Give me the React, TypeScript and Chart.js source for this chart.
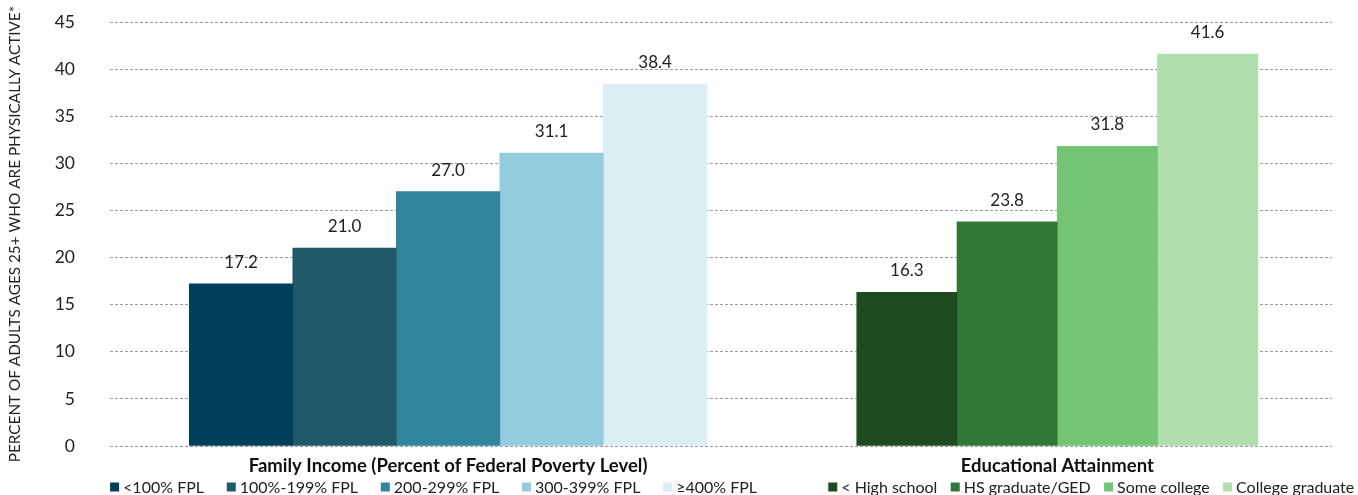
import React, { useEffect, useRef } from 'react';
import { Chart, registerables } from 'chart.js';

Chart.register(...registerables);

const FONT = 'Lato, "Liberation Sans", sans-serif';

const groupLabels = ['Family Income (Percent of Federal Poverty Level)', 'Educational Attainment'];

const incomeLabels = ['<100% FPL', '100%-199% FPL', '200-299% FPL', '300-399% FPL', '≥400% FPL'];
const incomeValues = [17.2, 21.0, 27.0, 31.1, 38.4];
const incomeColors = ['#003F5C', '#215968', '#31859C', '#93CDDD', '#DAEEF3'];

const eduLabels = ['< High school', 'HS graduate/GED', 'Some college', 'College graduate'];
const eduValues = [16.3, 23.8, 31.8, 41.6];
const eduColors = ['#1F4B21', '#327735', '#74C476', '#B0DEAC'];

const yTicks = [0, 5, 10, 15, 20, 25, 30, 35, 40, 45];
const yTitle = 'PERCENT OF ADULTS AGES 25+ WHO ARE PHYSICALLY ACTIVE*';

// legend layout (style): bounds relative to each group's centre
const legendBounds = [
  [-338, 309],
  [-229, 297],
];

const valueLabels = {
  id: 'valueLabels',
  afterDatasetsDraw(chart: any) {
    const ctx = chart.ctx;
    ctx.save();
    ctx.font = `17px ${FONT}`;
    ctx.fillStyle = '#222';
    ctx.textAlign = 'center';
    ctx.textBaseline = 'alphabetic';
    chart.data.datasets.forEach((ds: any, di: number) => {
      const meta = chart.getDatasetMeta(di);
      meta.data.forEach((el: any, i: number) => {
        const v = ds.data[i].y;
        if (v === null || v === undefined) return;
        ctx.fillText(v.toFixed(1), el.x, el.y - 16);
      });
    });
    ctx.restore();
  },
};

const groupLegend = {
  id: 'groupLegend',
  afterDraw(chart: any) {
    const ctx = chart.ctx;
    const xs = chart.scales.x;
    const y = 487;
    const box = 9;
    const boxGap = 4;
    const groups = [
      { labels: incomeLabels, colors: incomeColors },
      { labels: eduLabels, colors: eduColors },
    ];
    ctx.save();
    ctx.font = `16px ${FONT}`;
    ctx.textBaseline = 'middle';
    ctx.textAlign = 'left';
    groups.forEach((g, gi) => {
      const cx = xs.getPixelForValue(gi);
      const left = cx + legendBounds[gi][0];
      const right = cx + legendBounds[gi][1];
      const widths = g.labels.map((l) => box + boxGap + ctx.measureText(l).width);
      const total = widths.reduce((a, b) => a + b, 0);
      const gap = (right - left - total) / (g.labels.length - 1);
      let x = left;
      g.labels.forEach((l, i) => {
        ctx.fillStyle = g.colors[i];
        ctx.fillRect(x, y - box / 2, box, box);
        ctx.fillStyle = '#222';
        ctx.fillText(l, x + box + boxGap, y + 1);
        x += widths[i] + gap;
      });
    });
    ctx.restore();
  },
};

export default function App() {
  const ref = useRef<HTMLCanvasElement | null>(null);

  useEffect(() => {
    if (!ref.current) return;
    const datasets: any[] = [
      ...incomeLabels.map((label, i) => ({
        label,
        data: [
          { x: 0, y: incomeValues[i] },
          { x: 1, y: null },
        ],
        backgroundColor: incomeColors[i],
        barThickness: 103.5,
        borderWidth: 0,
      })),
      ...eduLabels.map((label, i) => ({
        label,
        data: [
          { x: 0, y: null },
          { x: 1, y: eduValues[i] },
        ],
        backgroundColor: eduColors[i],
        barThickness: 100.25,
        borderWidth: 0,
      })),
    ];

    const chart = new Chart(ref.current, {
      type: 'bar',
      data: { datasets },
      plugins: [valueLabels, groupLegend],
      options: {
        animation: false,
        responsive: true,
        maintainAspectRatio: false,
        skipNull: true,
        layout: { padding: { top: 22, right: 26, bottom: 0, left: 0 } },
        plugins: {
          legend: { display: false },
          tooltip: { enabled: false },
        },
        scales: {
          x: {
            type: 'linear',
            offset: false,
            min: -0.555,
            max: 1.451,
            afterBuildTicks: (s: any) => {
              s.ticks = groupLabels.map((_, i) => ({ value: i }));
            },
            afterFit: (s: any) => {
              s.height = 49;
              s.paddingLeft = 0;
              s.paddingRight = 0;
            },
            grid: { display: false, drawTicks: false, offset: false },
            border: { display: false },
            ticks: {
              autoSkip: false,
              maxRotation: 0,
              padding: 9,
              color: '#111',
              font: { family: FONT, size: 18.5, weight: 'bold' },
              callback: (v: any) => groupLabels[v] ?? '',
            },
          },
          y: {
            min: 0,
            max: 45,
            afterBuildTicks: (s: any) => {
              s.ticks = yTicks.map((v) => ({ value: v }));
            },
            afterFit: (s: any) => {
              s.width = 110;
              s.paddingTop = 10;
              s.paddingBottom = 10;
            },
            grid: { color: '#9a9a9a', drawTicks: false, lineWidth: 1 },
            border: { display: false, dash: [3, 2] },
            ticks: {
              padding: 35,
              color: '#222',
              font: { family: FONT, size: 17.5 },
            },
            title: {
              display: true,
              text: yTitle,
              color: '#222',
              font: { family: FONT, size: 15.3 },
              padding: { top: 6, bottom: 0 },
            },
          },
        },
      } as any,
    });
    return () => chart.destroy();
  }, []);

  return (
    <div style={{ position: 'fixed', left: 0, top: 0, width: 1358, height: 495, background: '#fff' }}>
      <canvas ref={ref} />
    </div>
  );
}
